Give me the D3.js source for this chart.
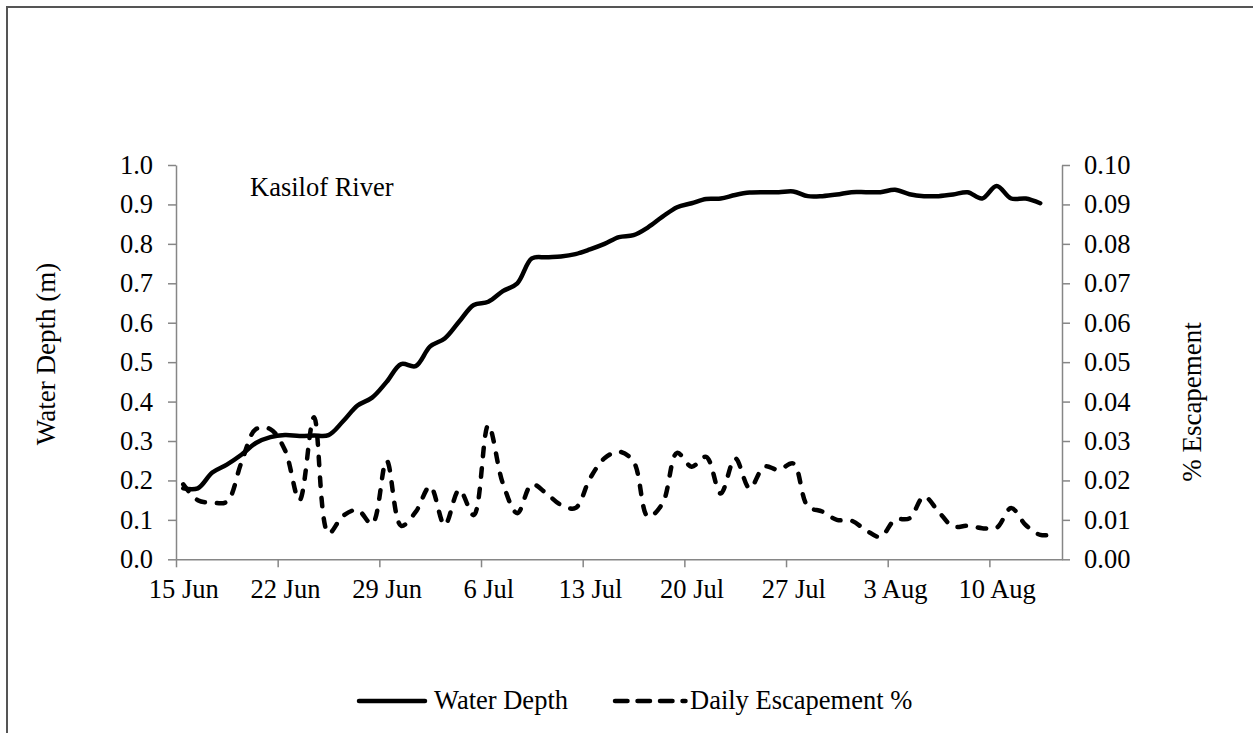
<!DOCTYPE html>
<html>
<head>
<meta charset="utf-8">
<script src="https://cdn.jsdelivr.net/npm/d3@7"></script>
<style>
  body { margin: 0; background: #fff; }
  text { font-family: "Liberation Serif", "Times New Roman", serif; fill: #000; }
</style>
</head>
<body>
<svg id="chart" width="1253" height="733"></svg>
<script>
// first day of the series, one value per day after it
var startDay = "2013-06-15",
    endDay = "2013-08-15";

// water depth (m), left axis
var waterDepth = [0.18, 0.18, 0.22, 0.24, 0.265, 0.295, 0.31, 0.315, 0.313, 0.314,
                  0.315, 0.35, 0.39, 0.41, 0.45, 0.495, 0.49, 0.54, 0.56, 0.603,
                  0.645, 0.653, 0.68, 0.70, 0.763, 0.766, 0.768, 0.774, 0.786, 0.80,
                  0.817, 0.822, 0.842, 0.869, 0.893, 0.903, 0.914, 0.915, 0.924, 0.93,
                  0.931, 0.931, 0.933, 0.921, 0.921, 0.925, 0.931, 0.931, 0.931, 0.937,
                  0.926, 0.921, 0.921, 0.925, 0.931, 0.915, 0.947, 0.915, 0.915, 0.903];

// daily escapement %, right axis
var escapement = [0.019, 0.015, 0.0144, 0.0146, 0.0245, 0.033, 0.033, 0.0277, 0.015, 0.036,
                  0.0066, 0.011, 0.0125, 0.009, 0.025, 0.0085, 0.012, 0.0185, 0.0087, 0.0176,
                  0.0112, 0.034, 0.0193, 0.0117, 0.019, 0.0167, 0.0138, 0.013, 0.0205, 0.0256,
                  0.0273, 0.0248, 0.0108, 0.0142, 0.027, 0.0235, 0.026, 0.0167, 0.0256, 0.018,
                  0.0235, 0.0227, 0.0243, 0.0134, 0.0121, 0.010, 0.0098, 0.0074, 0.0057, 0.010,
                  0.0104, 0.0159, 0.0121, 0.0083, 0.0085, 0.0079, 0.008, 0.013, 0.0087, 0.0062,
                  0.0063];

var leftTicks = [0, 0.1, 0.2, 0.3, 0.4, 0.5, 0.6, 0.7, 0.8, 0.9, 1.0],
    rightTicks = [0, 0.01, 0.02, 0.03, 0.04, 0.05, 0.06, 0.07, 0.08, 0.09, 0.10],
    seriesNames = ["Water Depth", "Daily Escapement %"];

var svg = d3.select("#chart"),
    plotLeft = 176, plotRight = 1062, plotTop = 165, plotBottom = 559.3,
    axisColor = "#868686",
    fontSize = 26.5;

var parse = d3.utcParse("%Y-%m-%d"),
    t0 = parse(startDay),
    t1 = parse(endDay);

// points sit in the middle of their day
function dayMid(i){ return d3.utcHour.offset(d3.utcDay.offset(t0, i), 12); }

var x = d3.scaleUtc().domain([t0, t1]).range([plotLeft, plotRight]),
    yL = d3.scaleLinear().domain([0, 1]).range([plotBottom, plotTop]),
    yR = d3.scaleLinear().domain([0, 0.1]).range([plotBottom, plotTop]),
    halfDay = x(dayMid(0)) - x(t0);

// outer chart border (cut by the picture at right and bottom)
svg.append("path")
    .attr("d", "M7,740 L7,7 L1260,7")
    .attr("fill", "none")
    .attr("stroke", "#555")
    .attr("stroke-width", 2);

function styleAxis(g){
    g.select(".domain").attr("stroke", axisColor).attr("stroke-width", 1.5);
    g.selectAll(".tick line").attr("stroke", axisColor).attr("stroke-width", 1.5);
    g.selectAll(".tick text")
        .attr("font-family", "Liberation Serif")
        .attr("font-size", fontSize)
        .attr("fill", "#000");
}

var xTicks = d3.utcDay.range(t0, t1, 1).filter(function(d, i){ return i % 7 === 0; });

svg.append("g")
    .attr("transform", "translate(0," + plotBottom + ")")
    .call(d3.axisBottom(x).tickValues(xTicks).tickFormat(d3.utcFormat("%-d %b"))
            .tickSizeInner(8).tickSizeOuter(0).tickPadding(12))
    .call(styleAxis)
    .selectAll(".tick text").attr("dx", halfDay);   // labels centred on the day

svg.append("g")
    .attr("transform", "translate(" + plotLeft + ",0)")
    .call(d3.axisLeft(yL).tickValues(leftTicks).tickFormat(d3.format(".1f"))
            .tickSizeInner(8).tickSizeOuter(0).tickPadding(15))
    .call(styleAxis);

svg.append("g")
    .attr("transform", "translate(" + plotRight + ",0)")
    .call(d3.axisRight(yR).tickValues(rightTicks).tickFormat(d3.format(".2f"))
            .tickSizeInner(8).tickSizeOuter(0).tickPadding(14))
    .call(styleAxis);

// lines
var depthLine = d3.line()
    .x(function(d, i){ return x(dayMid(i)); })
    .y(function(d){ return yL(d); })
    .curve(d3.curveCatmullRom.alpha(0.5));

var escLine = d3.line()
    .x(function(d, i){ return x(dayMid(i)); })
    .y(function(d){ return yR(d); })
    .curve(d3.curveCatmullRom.alpha(0.5));

svg.append("path")
    .datum(escapement)
    .attr("d", escLine)
    .attr("fill", "none")
    .attr("stroke", "#000")
    .attr("stroke-width", 4.5)
    .attr("stroke-linecap", "round")
    .attr("stroke-dasharray", "8.5,12");

svg.append("path")
    .datum(waterDepth)
    .attr("d", depthLine)
    .attr("fill", "none")
    .attr("stroke", "#000")
    .attr("stroke-width", 4.5)
    .attr("stroke-linejoin", "round")
    .attr("stroke-linecap", "round");

// labels
svg.append("text")
    .attr("x", 250).attr("y", 196)
    .attr("font-size", fontSize)
    .text("Kasilof River");

svg.append("text")
    .attr("transform", "translate(55,354) rotate(-90)")
    .attr("text-anchor", "middle")
    .attr("font-size", 27)
    .text("Water Depth (m)");

svg.append("text")
    .attr("transform", "translate(1201,402) rotate(-90)")
    .attr("text-anchor", "middle")
    .attr("font-size", 27)
    .text("% Escapement");

// legend
var legend = svg.append("g").attr("transform", "translate(0,701)");

legend.append("line")
    .attr("x1", 359).attr("x2", 425)
    .attr("stroke", "#000").attr("stroke-width", 4.5).attr("stroke-linecap", "round");
legend.append("text")
    .attr("x", 434).attr("y", 8)
    .attr("font-size", fontSize)
    .text(seriesNames[0]);

legend.append("line")
    .attr("x1", 615).attr("x2", 685.5)
    .attr("stroke", "#000").attr("stroke-width", 4.5).attr("stroke-linecap", "round")
    .attr("stroke-dasharray", "12.5,10");
legend.append("text")
    .attr("x", 690).attr("y", 8)
    .attr("font-size", fontSize)
    .text(seriesNames[1]);
</script>
</body>
</html>
